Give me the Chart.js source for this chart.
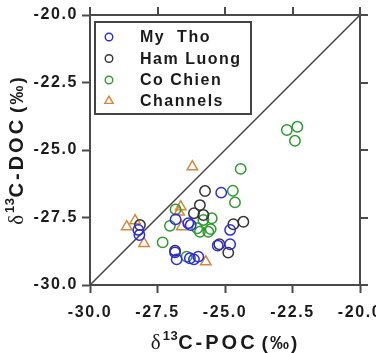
<!DOCTYPE html>
<html><head><meta charset="utf-8">
<script src="https://cdn.jsdelivr.net/npm/chart.js@4.4.1/dist/chart.umd.min.js"></script>
<style>html,body{margin:0;padding:0;background:#fff;overflow:hidden}</style>
</head><body>
<canvas id="c" width="376" height="353" style="display:block;width:376px;height:353px"></canvas>
<script>
// ---- data ----
const seriesNames = ['My  Tho', 'Ham Luong', 'Co Chien', 'Channels'];
const myThoPOC = [-28.21, -28.17, -26.83, -26.36, -26.27, -26.85, -26.79, -26.30, -26.15, -25.99, -25.14, -24.81, -25.27, -24.81];
const myThoDOC = [-27.96, -28.15, -27.57, -27.71, -27.78, -28.79, -29.05, -29.01, -29.05, -28.95, -26.58, -27.96, -28.54, -28.49];
const hamLuongPOC = [-28.15, -25.74, -25.93, -26.15, -25.80, -24.69, -24.32, -25.21, -24.88, -26.85];
const hamLuongDOC = [-27.78, -26.52, -27.04, -27.34, -27.41, -27.75, -27.66, -28.49, -28.80, -28.73];
const coChienPOC = [-22.71, -22.32, -22.41, -24.42, -24.71, -24.63, -26.83, -27.04, -27.31, -25.49, -25.80, -25.93, -25.62, -25.53, -26.03, -26.42];
const coChienDOC = [-24.26, -24.14, -24.66, -25.70, -26.51, -26.94, -27.20, -27.81, -28.42, -27.53, -27.59, -28.03, -28.03, -27.93, -27.90, -28.95];
const channelsPOC = [-26.21, -28.64, -28.33, -28.00, -26.64, -26.70, -26.60, -25.71];
const channelsDOC = [-25.62, -27.84, -27.62, -28.46, -27.10, -27.30, -27.84, -29.14];
const oneToOneLine = [-30, -20];
const axisMin = -30, axisMax = -20, axisStep = 2.5;

// ---- styling ----
const colors = ['#2b2be0', '#333333', '#2e9a2e', '#d2873a'];
const shapes = ['circle', 'circle', 'circle', 'triangle'];
const AXIS = '#4a4a4a';
const SANS = '"Liberation Sans", Arial, sans-serif';

function pts(xs, ys) { return xs.map((x, i) => ({ x: x, y: ys[i] })); }
const seriesData = [pts(myThoPOC, myThoDOC), pts(hamLuongPOC, hamLuongDOC), pts(coChienPOC, coChienDOC), pts(channelsPOC, channelsDOC)];

const datasets = seriesData.map((d, i) => ({
  label: seriesNames[i],
  data: d,
  pointStyle: shapes[i],
  pointRadius: shapes[i] === 'triangle' ? 6 : 5.2,
  pointBorderWidth: 1.5,
  pointBorderColor: colors[i],
  pointBackgroundColor: 'rgba(0,0,0,0)',
  borderColor: colors[i],
  backgroundColor: 'rgba(0,0,0,0)',
  showLine: false
}));
datasets.push({
  label: '1:1',
  data: pts(oneToOneLine, oneToOneLine),
  showLine: true,
  borderColor: '#444',
  borderWidth: 1.5,
  pointRadius: 0,
  fill: false,
  isLine: true
});

function drawRich(ctx, segs) {
  let total = 0;
  segs.forEach(s => {
    ctx.font = s.font; ctx.letterSpacing = '0px';
    s.w = ctx.measureText(s.t).width + (s.ls || 0) * s.t.length;
    total += s.w + (s.gap || 0);
  });
  let x = -total / 2;
  segs.forEach(s => {
    x += (s.gap || 0);
    ctx.font = s.font; ctx.letterSpacing = (s.ls || 0) + 'px';
    ctx.fillText(s.t, x, s.dy || 0);
    x += s.w;
  });
}

function titleSegs(name) {
  return [
    { t: 'δ', font: '21px "Liberation Serif", serif', ls: 0 },
    { t: '13', font: 'bold 13px ' + SANS, ls: 0.5, dy: -9, gap: 2 },
    { t: name, font: 'bold 20px ' + SANS, ls: 3, gap: 0 },
    { t: '(‰)', font: 'bold 19px ' + SANS, ls: 2, gap: 4 }
  ];
}

function line(ctx, x1, y1, x2, y2) { ctx.beginPath(); ctx.moveTo(x1, y1); ctx.lineTo(x2, y2); ctx.stroke(); }

const decor = {
  id: 'decor',
  beforeDraw(chart) { chart.ctx.letterSpacing = '1.6px'; },
  afterDraw(chart) {
    const ctx = chart.ctx;
    const a = chart.chartArea;
    ctx.save();
    ctx.letterSpacing = '0px';
    // mirrored frame and ticks (top and right), from the library's scales
    const xs = chart.scales.x, ys = chart.scales.y;
    ctx.strokeStyle = AXIS;
    ctx.lineWidth = 2;
    line(ctx, a.left - 1, a.top, a.right + 1, a.top);
    line(ctx, a.right, a.top - 1, a.right, a.bottom + 1);
    xs.ticks.forEach(t => { const p = Math.round(xs.getPixelForValue(t.value)); line(ctx, p, a.top, p, a.top - 8); });
    ys.ticks.forEach(t => { const p = Math.round(ys.getPixelForValue(t.value)); line(ctx, a.right, p, a.right + 8, p); });
    // legend
    const lx = 95, ly = 22, lw = 156, lh = 92;
    ctx.fillStyle = '#fff';
    ctx.fillRect(lx, ly, lw, lh);
    ctx.strokeStyle = '#444';
    ctx.lineWidth = 2;
    ctx.strokeRect(lx, ly, lw, lh);
    const rows = [37, 58.5, 80, 101];
    chart.data.datasets.forEach((ds, i) => {
      if (ds.isLine) return;
      const y = rows[i];
      ctx.strokeStyle = ds.pointBorderColor;
      ctx.lineWidth = 1.4;
      ctx.beginPath();
      if (ds.pointStyle === 'triangle') {
        const r = 4.8;
        ctx.moveTo(109, y - r);
        ctx.lineTo(109 + r * 0.866, y + r * 0.5);
        ctx.lineTo(109 - r * 0.866, y + r * 0.5);
        ctx.closePath();
      } else {
        ctx.arc(109, y, 3.8, 0, Math.PI * 2);
      }
      ctx.stroke();
      ctx.fillStyle = '#1a1a1a';
      ctx.font = 'bold 16px ' + SANS;
      ctx.letterSpacing = '1.5px';
      ctx.textBaseline = 'middle';
      ctx.textAlign = 'left';
      ctx.fillText(ds.label, 140, y + 1);
      ctx.letterSpacing = '0px';
    });
    // axis titles
    ctx.fillStyle = '#1a1a1a';
    ctx.textBaseline = 'alphabetic';
    ctx.textAlign = 'left';
    ctx.save();
    ctx.translate((a.left + a.right) / 2, 348.5);
    drawRich(ctx, titleSegs('C-POC'));
    ctx.restore();
    ctx.save();
    ctx.translate(23, (a.top + a.bottom) / 2);
    ctx.rotate(-Math.PI / 2);
    drawRich(ctx, titleSegs('C-DOC'));
    ctx.restore();
    ctx.restore();
    ctx.letterSpacing = '0px';
  }
};

function axis(position, fitSize) {
  const horiz = position === 'bottom';
  return {
    type: 'linear',
    position: position,
    min: axisMin, max: axisMax,
    ticks: {
      stepSize: axisStep,
      padding: horiz ? 10 : 4,
      color: '#1a1a1a',
      font: { family: SANS, size: 16, weight: 'bold' },
      callback: v => v.toFixed(1),
      maxRotation: 0
    },
    grid: { drawOnChartArea: false, drawTicks: true, tickLength: 8, tickWidth: 2, tickColor: AXIS },
    border: { display: true, color: AXIS, width: 2 },
    title: { display: false },
    afterFit: s => {
      if (horiz) s.height = fitSize; else s.width = fitSize;
      s.paddingLeft = 0; s.paddingRight = 0; s.paddingTop = 0; s.paddingBottom = 0;
    }
  };
}

new Chart(document.getElementById('c'), {
  type: 'scatter',
  data: { datasets: datasets },
  options: {
    responsive: false,
    animation: false,
    events: [],
    layout: { padding: { top: 15, right: 16, left: 0, bottom: 0 } },
    plugins: { legend: { display: false }, tooltip: { enabled: false } },
    scales: {
      x: axis('bottom', 68),
      y: axis('left', 90)
    }
  },
  plugins: [decor]
});
</script>
</body></html>
